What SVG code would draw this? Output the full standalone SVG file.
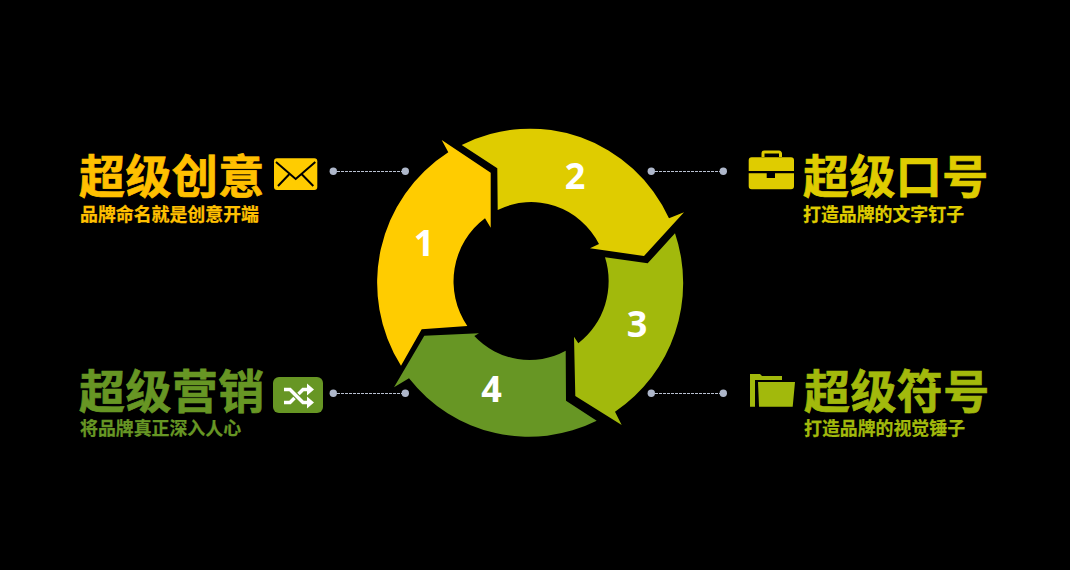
<svg xmlns="http://www.w3.org/2000/svg" width="1070" height="570" viewBox="0 0 1070 570">
<style>
.t{font-family:"Noto Sans CJK SC",sans-serif;font-weight:700;font-size:46px;letter-spacing:.4px;stroke-width:.7px}
.s{font-family:"Noto Sans CJK SC",sans-serif;font-weight:700;font-size:17.900px;stroke-width:.25px}
.n{font-family:"Open Sans",sans-serif;font-weight:700;font-size:36px;fill:#fff;text-anchor:middle}
.l{stroke:#b8c0d0;stroke-width:1;stroke-dasharray:3 1;fill:none}
.d{fill:#aeb7ca}
.y1{fill:#ffc000;stroke:#ffc000}.y2{fill:#dfcc00;stroke:#dfcc00}.y3{fill:#a2b90c;stroke:#a2b90c}.y4{fill:#679624;stroke:#679624}
</style>
<rect width="1070" height="570" fill="#000"/>
<g id="connectors">
<path class="l" d="M333 171.500H405"/><circle class="d" cx="333.300" cy="171.300" r="3.700"/><circle class="d" cx="405.300" cy="171.300" r="3.700"/>
<path class="l" d="M651 171.500H723"/><circle class="d" cx="651.300" cy="171.300" r="3.700"/><circle class="d" cx="723.300" cy="171.300" r="3.700"/>
<path class="l" d="M333 393.500H405"/><circle class="d" cx="333.300" cy="393.300" r="3.700"/><circle class="d" cx="405.300" cy="393.300" r="3.700"/>
<path class="l" d="M651 393.500H723"/><circle class="d" cx="651.300" cy="393.300" r="3.700"/><circle class="d" cx="723.300" cy="393.300" r="3.700"/>
</g>
<g id="ring1"><path fill="#ffcc00" d="M441.700 140L490.700 172.700L490.700 227.700L485 218.300A76.500 78 0 0 0 467.300 326L421.700 329.300L401 365.700A153 154.500 0 0 1 448.300 152.300Z"/><text class="n" x="424" y="256">1</text></g>
<g id="ring2"><path fill="#dfcc00" d="M461.700 145A153 154.500 0 0 1 669 218.300L684 212.300L644 256L590 248.300L599 244A76.500 78 0 0 0 497.700 210L497.300 168.300Z"/><text class="n" x="575" y="189">2</text></g>
<g id="ring3"><path fill="#a2b90c" d="M675 233.300A153 154.500 0 0 1 615 411.700L621.700 425L575.300 396L574 336.700L578.300 343.300A76.500 78 0 0 0 605 257.300L647.700 263.300Z"/><text class="n" x="637" y="337">3</text></g>
<g id="ring4"><path fill="#679624" d="M596.700 420.700A153 154.500 0 0 1 409 378.300L394 387.300L424.300 335.700L479 333.300L474.300 336A76.500 78 0 0 0 565.700 350.700L566 400.700Z"/><text class="n" x="491.500" y="402">4</text></g>
<g id="item1"><text class="t y1" x="79" y="193">超级创意</text><text class="s y1" x="80" y="221">品牌命名就是创意开端</text>
<rect x="274" y="158.300" width="43.300" height="31.700" rx="3" fill="#ffcc00"/><path d="M276 162L295.700 179L315.300 162M278 186L289 174.500M313.300 186L302 174.500" fill="none" stroke="#000" stroke-width="2"/></g>
<g id="item2"><text class="t y2" x="803" y="193">超级口号</text><text class="s y2" x="803" y="221">打造品牌的文字钉子</text>
<path fill="#dfcc00" d="M752 157.300h39a3 3 0 0 1 3 3v10.700h-44.300h-1v-10.700a3 3 0 0 1 3-3ZM748.700 173.300h18v4.700h8.300v-4.700h19v13a3 3 0 0 1-3 3h-39.300a3 3 0 0 1-3-3Z"/><path d="M763 157v-3.500a1.500 1.500 0 0 1 1.500-1.500h14.500a1.500 1.500 0 0 1 1.500 1.500v3.500" fill="none" stroke="#dfcc00" stroke-width="3"/></g>
<g id="item3"><text class="t y3" x="804" y="408">超级符号</text><text class="s y3" x="804" y="435">打造品牌的视觉锤子</text>
<path fill="#a2b90c" d="M750 374H760L762 376H782V380H755V406.700H750ZM758 382H795L792.700 406.700H759Z"/></g>
<g id="item4"><text class="t y4" x="79" y="408">超级营销</text><text class="s y4" x="80" y="435">将品牌真正深入人心</text>
<rect x="273" y="377" width="50" height="36" rx="6" fill="#679624"/><path d="M284 389.500H290L303 402.500H308M284 402.500H290L294.500 398M298.500 394L303 389.500H308" fill="none" stroke="#fff" stroke-width="3.500"/><path d="M307 383.500L314 389.500L307 395.500ZM307 396.500L314 402.500L307 408.500Z" fill="#fff"/></g>
</svg>
